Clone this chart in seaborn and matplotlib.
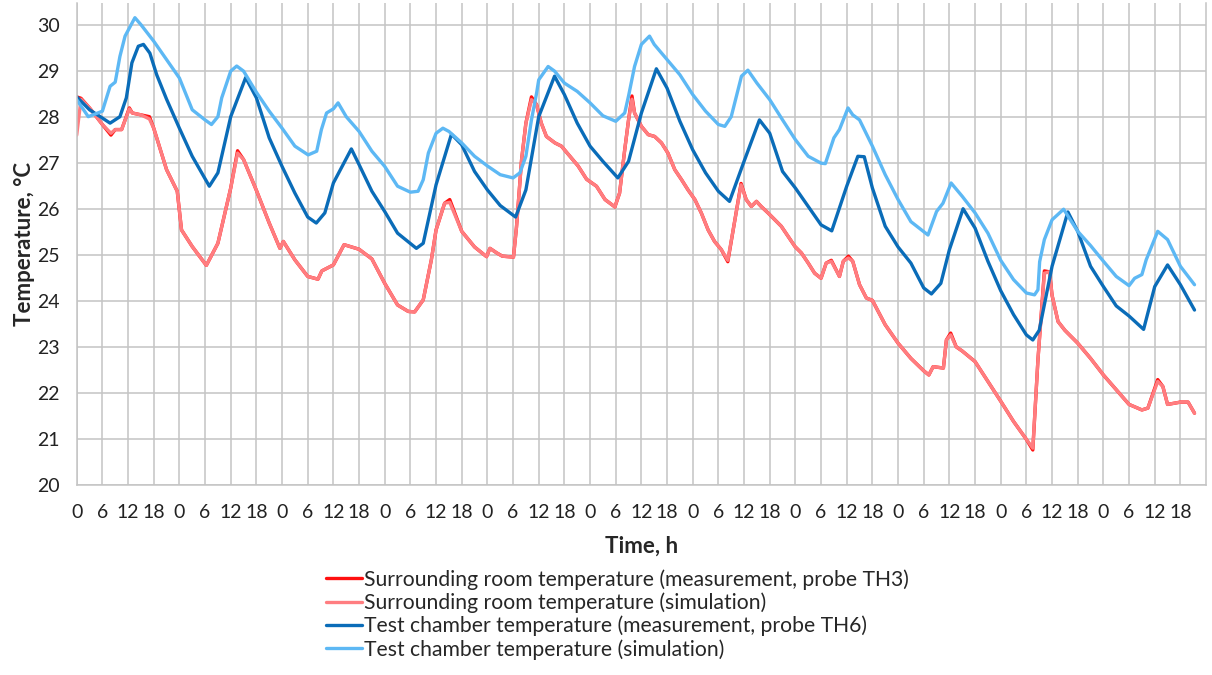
import seaborn as sns
import matplotlib.pyplot as plt
import pandas as pd

# time axis (hours from start) and readings for the four curves
t_room = [0, 1, 3, 6, 8, 9, 10.5, 12.3, 13, 15, 17, 18, 21, 23.5, 24.5, 27, 30.3, 33, 36, 37.6,
          39, 42, 45, 47.5, 48.3, 51, 54, 56.4, 57.3, 60, 62.5, 66, 69, 72, 75, 77.5, 79, 81, 82.9, 84,
          86, 87.2, 90, 93, 95.8, 96.6, 98.2, 99.5, 102.1, 102.8, 104, 105, 106.3, 107.5, 108.6, 109.8,
          111.8, 113.3, 115.3, 117.2, 119.2, 121.5, 123.5, 125.8, 126.9, 128.1, 129, 129.8, 130.4, 132,
          133.6, 135.1, 136.7, 138.2, 139.8, 141.4, 142.9, 144.5, 146, 147.6, 149.1, 150.7, 152.2, 155.3,
          156.5, 157.7, 158.9, 160, 161.6, 163.2, 164.7, 166.3, 167.9, 169.4, 171, 172.5, 174, 175.2,
          176.4, 178.3, 179.2, 180.4, 181.4, 183, 184.6, 186, 189, 192, 195, 198, 199.2, 200.2, 202.6,
          203.3, 204.3, 205.6, 207, 210, 213, 216, 219, 222, 223.5, 224.7, 226.2, 227.4, 228, 229.4,
          231, 234, 237, 240, 243, 246, 249, 250.4, 252.7, 253.9, 255, 258, 259.8, 261.3]

room_sim = [27.6, 28.38, 28.19, 27.83, 27.64, 27.72, 27.72, 28.17, 28.08, 28.04, 27.95, 27.75, 26.85,
            26.38, 25.54, 25.18, 24.77, 25.25, 26.45, 27.21, 27.07, 26.4, 25.69, 25.14, 25.29, 24.89,
            24.53, 24.47, 24.65, 24.78, 25.22, 25.12, 24.91, 24.38, 23.91, 23.77, 23.76, 24.02, 24.89,
            25.54, 26.12, 26.14, 25.51, 25.17, 24.96, 25.14, 25.04, 24.97, 24.95, 25.6, 27.07, 27.86,
            28.37, 28.26, 27.86, 27.57, 27.43, 27.36, 27.14, 26.93, 26.64, 26.49, 26.2, 26.04, 26.34,
            27.28, 27.93, 28.38, 28.08, 27.79, 27.61, 27.57, 27.43, 27.21, 26.85, 26.63, 26.41, 26.2,
            25.91, 25.54, 25.29, 25.11, 24.88, 26.52, 26.2, 26.05, 26.16, 26.05, 25.91, 25.76, 25.62,
            25.4, 25.18, 25.04, 24.82, 24.6, 24.49, 24.82, 24.86, 24.53, 24.86, 24.93, 24.86, 24.35,
            24.06, 24.01, 23.48, 23.08, 22.75, 22.48, 22.39, 22.57, 22.54, 23.15, 23.26, 23.0, 22.91,
            22.68, 22.25, 21.82, 21.38, 20.99, 20.8, 22.72, 24.6, 24.63, 24.12, 23.55, 23.36, 23.08,
            22.75, 22.39, 22.07, 21.75, 21.63, 21.67, 22.25, 22.14, 21.75, 21.8, 21.8, 21.56]

room_meas = [28.43, 28.4, 28.19, 27.83, 27.6, 27.72, 27.72, 28.19, 28.08, 28.04, 28.0, 27.75, 26.85,
             26.38, 25.54, 25.18, 24.77, 25.25, 26.45, 27.26, 27.07, 26.4, 25.69, 25.14, 25.29, 24.89,
             24.53, 24.47, 24.65, 24.78, 25.22, 25.12, 24.91, 24.38, 23.91, 23.77, 23.76, 24.02, 24.89,
             25.54, 26.12, 26.2, 25.51, 25.17, 24.96, 25.14, 25.04, 24.97, 24.95, 25.6, 27.07, 27.86,
             28.43, 28.26, 27.86, 27.57, 27.43, 27.36, 27.14, 26.93, 26.64, 26.49, 26.2, 26.04, 26.34,
             27.28, 27.93, 28.45, 28.08, 27.79, 27.61, 27.57, 27.43, 27.21, 26.85, 26.63, 26.41, 26.2,
             25.91, 25.54, 25.29, 25.11, 24.85, 26.55, 26.2, 26.05, 26.16, 26.05, 25.91, 25.76, 25.62,
             25.4, 25.18, 25.04, 24.82, 24.6, 24.49, 24.82, 24.88, 24.53, 24.86, 24.97, 24.86, 24.35,
             24.06, 24.01, 23.48, 23.08, 22.75, 22.48, 22.39, 22.57, 22.54, 23.15, 23.3, 23.0, 22.91,
             22.68, 22.25, 21.82, 21.38, 20.99, 20.76, 22.72, 24.65, 24.63, 24.12, 23.55, 23.36, 23.08,
             22.75, 22.39, 22.07, 21.75, 21.63, 21.67, 22.29, 22.14, 21.75, 21.8, 21.8, 21.56]

t_chamber_meas = [0, 3, 6, 7.8, 10.1, 11.6, 12.9, 14.4, 15.6, 17.1, 18.7, 21, 24, 27, 31, 33, 36, 39.5,
                  42, 45, 48, 51, 54, 56, 58, 60, 64.2, 66, 69, 72, 75, 79.4, 81, 84, 87.6, 90, 93, 96,
                  99, 102.6, 105, 108, 111.7, 114, 117, 120, 123, 126.5, 129, 132, 135.5, 138, 141, 144,
                  147, 150, 152.6, 156, 159.6, 162, 165, 168, 171, 174, 176.5, 180, 182.6, 184.1, 186,
                  189, 192, 195, 198, 199.8, 202, 204, 207.2, 210, 213, 216, 219, 222, 223.5, 225, 228,
                  231.7, 234, 237, 240, 243, 246, 249.4, 252, 255, 258, 261.3]
chamber_meas = [28.43, 28.15, 27.97, 27.86, 28.0, 28.41, 29.17, 29.53, 29.57, 29.38, 28.91, 28.38, 27.75,
                27.14, 26.49, 26.78, 28.0, 28.85, 28.41, 27.54, 26.92, 26.34, 25.82, 25.69, 25.91, 26.56,
                27.3, 26.96, 26.38, 25.94, 25.47, 25.14, 25.25, 26.52, 27.62, 27.39, 26.81, 26.41, 26.07,
                25.82, 26.41, 28.0, 28.88, 28.48, 27.86, 27.36, 27.03, 26.67, 27.03, 28.08, 29.04, 28.62,
                27.9, 27.28, 26.78, 26.38, 26.16, 27.03, 27.93, 27.64, 26.81, 26.45, 26.05, 25.65, 25.52,
                26.49, 27.14, 27.13, 26.45, 25.62, 25.17, 24.82, 24.28, 24.15, 24.38, 25.11, 26.0, 25.58,
                24.86, 24.22, 23.7, 23.26, 23.15, 23.36, 24.75, 25.93, 25.51, 24.75, 24.31, 23.89, 23.67,
                23.38, 24.31, 24.78, 24.35, 23.8]

t_chamber_sim = [0, 2.7, 6, 7.8, 9, 10.1, 11.3, 13.6, 15, 18, 21, 24, 27, 30, 31.5, 33, 33.9, 36, 37.4,
                 39, 42, 45, 48, 51, 54.1, 56.1, 57.2, 58.4, 60, 61.1, 63, 66, 69, 72, 75, 78, 79.8, 81,
                 82.2, 84, 85.6, 87, 90, 93, 96, 99, 102, 103.6, 105, 106.3, 107.5, 108, 110.2, 111.7,
                 114, 117, 120, 123, 126, 128.1, 129, 130.4, 132, 133.9, 135, 138, 141, 144, 147, 150,
                 151.5, 153, 154.2, 155.4, 156.9, 159, 162, 165, 168, 171, 174, 175, 177, 178.3, 180.3,
                 181.4, 183, 186, 189, 192, 195, 199, 201, 202.5, 204.4, 207, 210, 213, 216, 219, 222,
                 223.9, 224.7, 225.1, 226.2, 228, 230.7, 234, 237, 240, 243, 246, 247.3, 249, 250,
                 252.7, 255, 258, 261.3]
chamber_sim = [28.37, 28.0, 28.12, 28.66, 28.75, 29.31, 29.75, 30.15, 30.0, 29.64, 29.24, 28.84, 28.15,
               27.93, 27.83, 28.0, 28.41, 28.99, 29.1, 28.99, 28.53, 28.12, 27.75, 27.36, 27.17, 27.25,
               27.72, 28.08, 28.17, 28.3, 28.0, 27.68, 27.25, 26.92, 26.49, 26.36, 26.38, 26.63, 27.21,
               27.64, 27.75, 27.68, 27.43, 27.14, 26.93, 26.74, 26.67, 26.78, 27.14, 27.93, 28.51, 28.8,
               29.09, 28.99, 28.73, 28.55, 28.3, 28.02, 27.9, 28.08, 28.45, 29.09, 29.57, 29.75, 29.57,
               29.24, 28.91, 28.48, 28.12, 27.83, 27.79, 28.0, 28.44, 28.88, 29.01, 28.73, 28.37, 27.93,
               27.5, 27.14, 26.99, 26.98, 27.54, 27.72, 28.19, 28.04, 27.93, 27.36, 26.74, 26.2, 25.72,
               25.43, 25.94, 26.12, 26.56, 26.27, 25.91, 25.47, 24.88, 24.46, 24.17, 24.13, 24.24, 24.85,
               25.33, 25.76, 25.99, 25.51, 25.2, 24.86, 24.53, 24.33, 24.49, 24.57, 24.89, 25.51, 25.33,
               24.75, 24.35]

x_ticks = list(range(0, 264, 6))
x_labels = [str(h % 24) for h in x_ticks]

series = [
    (t_room, room_meas, "Surrounding room temperature (measurement, probe TH3)", "#ff1010"),
    (t_room, room_sim, "Surrounding room temperature (simulation)", "#ff7d80"),
    (t_chamber_meas, chamber_meas, "Test chamber temperature (measurement, probe TH6)", "#0a6cb8"),
    (t_chamber_sim, chamber_sim, "Test chamber temperature (simulation)", "#5db8f4"),
]

sns.set_style("white")
plt.rcParams["font.family"] = ["Lato", "DejaVu Sans"]

fig = plt.figure(figsize=(12.12, 6.75), dpi=100)
ax = fig.add_axes([0.0633, 0.2815, 0.9318, 0.7141])

for t, vals, name, col in series:
    df = pd.DataFrame({"Time": t, "Temp": vals})
    sns.lineplot(data=df, x="Time", y="Temp", color=col, linewidth=2.4, label=name,
                 errorbar=None, ax=ax, legend=False)

grid_col = "#c4c4c4"
ax.set_xlim(0, 264)
ax.set_ylim(20, 30.47)
ax.set_xticks(x_ticks)
ax.set_xticklabels(x_labels)
ax.set_yticks(range(20, 31))
ax.grid(True, color=grid_col, linewidth=1.1)
ax.set_axisbelow(True)
for s in ax.spines.values():
    s.set_color(grid_col)
    s.set_linewidth(1.1)
ax.spines["top"].set_visible(False)
ax.tick_params(axis="both", length=5, width=1.1, color=grid_col, labelsize=14,
               labelcolor="#222222", direction="out")
ax.tick_params(axis="x", pad=9)
ax.tick_params(axis="y", pad=7)

ax.set_xlabel("Time, h", fontsize=16, fontweight="bold", labelpad=10)
ax.set_ylabel("Temperature, °C", fontsize=16, fontweight="bold", labelpad=2)

handles, labels = ax.get_legend_handles_labels()
fig.legend(handles, labels, loc="upper left", bbox_to_anchor=(0.269, 0.157), frameon=False,
           fontsize=15.2, handlelength=1.7, handletextpad=0.1, labelspacing=0.13,
           borderpad=0, borderaxespad=0)

fig.savefig("out.png", dpi=100)
